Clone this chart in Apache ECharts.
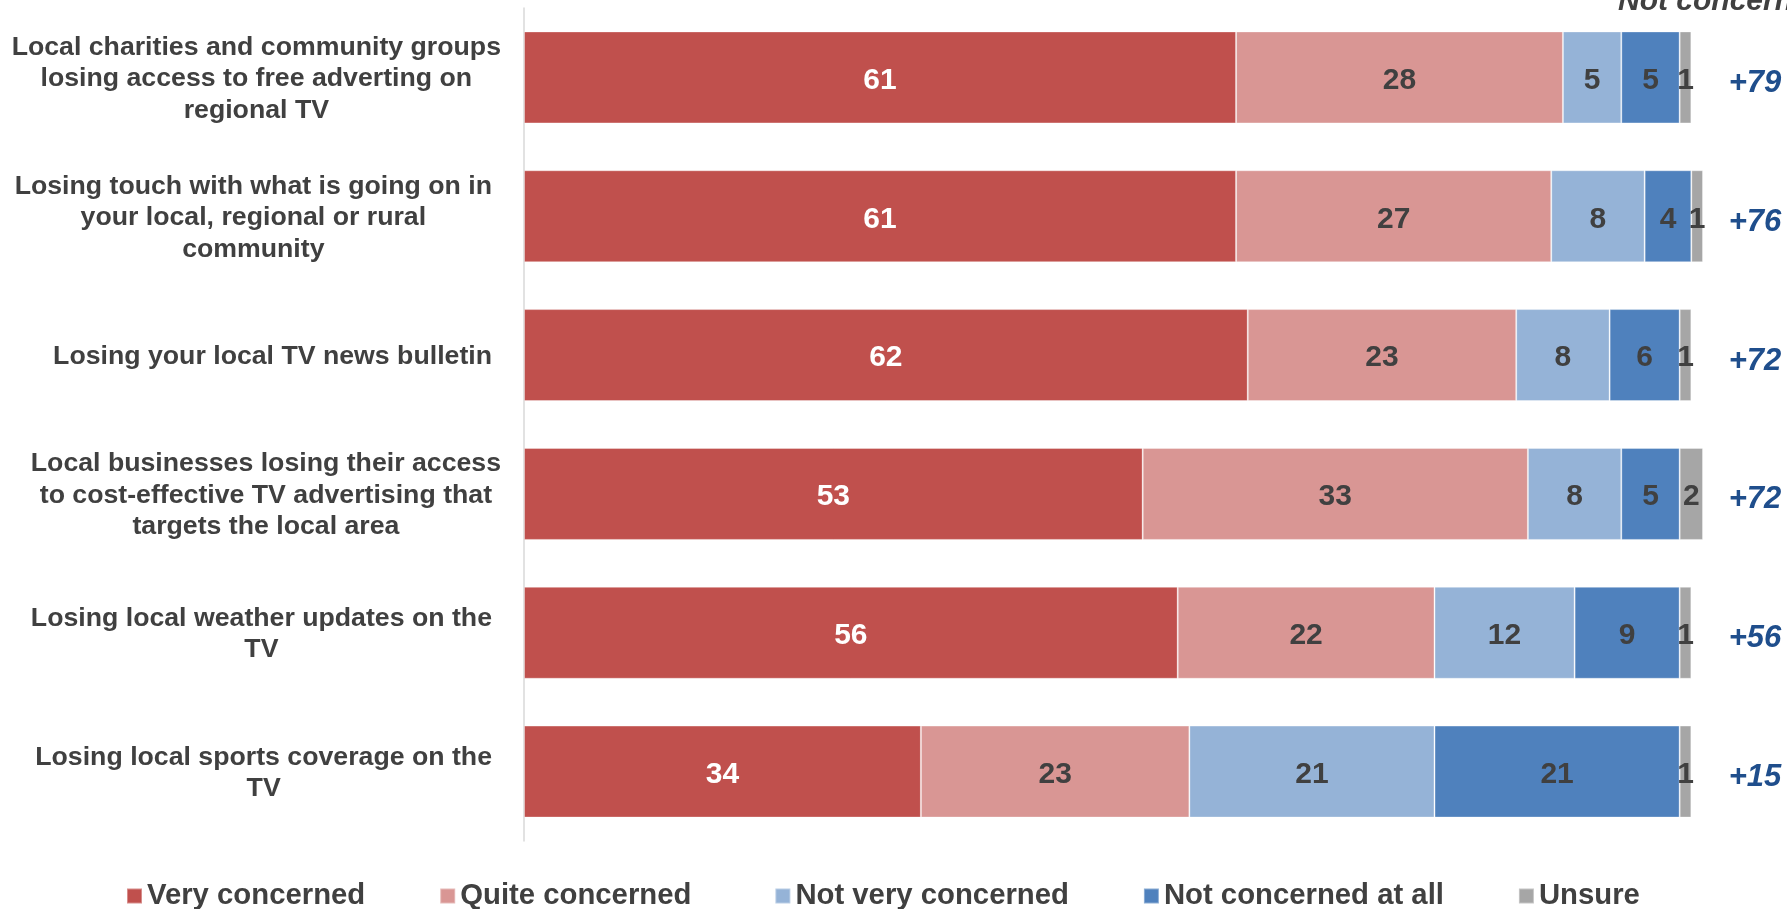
<!DOCTYPE html>
<html>
<head>
<meta charset="utf-8">
<title>Concern about losing local TV services</title>
<script src="https://cdn.jsdelivr.net/npm/echarts@6/dist/echarts.min.js"></script>
<style>
  html, body { margin: 0; padding: 0; background: #ffffff; }
  #chart { width: 1787px; height: 909px; }
</style>
</head>
<body>
<div id="chart"></div>
<script>
// Survey items (top to bottom), with line breaks as they are set in the labels
const categories = [
  'Local charities and community groups\nlosing access to free adverting on\nregional TV',
  'Losing touch with what is going on in\nyour local, regional or rural\ncommunity',
  'Losing your local TV news bulletin',
  'Local businesses losing their access\nto cost-effective TV advertising that\ntargets the local area',
  'Losing local weather updates on the\nTV',
  'Losing local sports coverage on the\nTV'
];

// Share of respondents (%) per answer
const veryConcerned     = [61, 61, 62, 53, 56, 34];
const quiteConcerned    = [28, 27, 23, 33, 22, 23];
const notVeryConcerned  = [5, 8, 8, 8, 12, 21];
const notConcernedAtAll = [5, 4, 6, 5, 9, 21];
const unsure            = [1, 1, 1, 2, 1, 1];

// Net concern (concerned minus not concerned)
const netConcern = ['+79', '+76', '+72', '+72', '+56', '+15'];

const FONT = "'Liberation Sans', Arial, Helvetica, sans-serif";
const TEXT = '#404040';

// The two longest labels run a little past the label column's right edge
const overflowRows = [0, 3];

function segment(name, values, color, labelColor) {
  return {
    name: name,
    type: 'bar',
    stack: 'total',
    data: values,
    barWidth: 92,
    clip: false,
    itemStyle: { color: color, borderColor: 'rgba(255,255,255,0.35)', borderWidth: 1 },
    label: {
      show: true,
      position: 'inside',
      offset: [0, 3],
      color: labelColor,
      fontFamily: FONT,
      fontWeight: 'bold',
      fontSize: 30
    },
    emphasis: { disabled: true }
  };
}

const chart = echarts.init(document.getElementById('chart'), null, { renderer: 'canvas' });

chart.setOption({
  animation: false,
  backgroundColor: '#ffffff',
  grid: { left: 524, right: 84, top: 8, bottom: 68 },
  xAxis: {
    type: 'value',
    min: 0,
    max: 101,
    show: false
  },
  yAxis: [
    {
      type: 'category',
      data: categories.map(function (c, i) {
        return {
          value: c,
          textStyle: { padding: [3, overflowRows.indexOf(i) >= 0 ? 0 : 9, 0, 0] }
        };
      }),
      inverse: true,
      position: 'left',
      axisLine: { show: true, lineStyle: { color: '#D9D9D9', width: 1.5 } },
      axisTick: { show: false },
      splitLine: { show: false },
      axisLabel: {
        margin: 23,
        align: 'right',
        padding: [3, 0, 0, 0],
        formatter: function (v) {
          return v.split('\n').map(function (s) { return '{c|' + s + '}'; }).join('\n');
        },
        rich: {
          c: {
            align: 'center',
            fontFamily: FONT,
            fontWeight: 'bold',
            fontSize: 26.7,
            lineHeight: 31.5,
            color: TEXT
          }
        }
      }
    },
    {
      type: 'category',
      data: netConcern,
      inverse: true,
      position: 'right',
      axisLine: { show: false },
      axisTick: { show: false },
      splitLine: { show: false },
      axisLabel: {
        margin: 52,
        align: 'center',
        formatter: function (v) { return '{n|' + v + '}'; },
        rich: {
          n: {
            padding: [12, 0, 0, 0],
            fontFamily: FONT,
            fontWeight: 'bold',
            fontStyle: 'italic',
            fontSize: 31,
            color: '#1F4E8C'
          }
        }
      }
    }
  ],
  legend: {
    left: 126,
    top: 879,
    padding: 0,
    itemWidth: 15,
    itemHeight: 15,
    itemGap: 74,
    icon: 'rect',
    selectedMode: false,
    formatter: function (name) {
      // slightly wider spacing after the second entry
      return name === 'Quite concerned' ? name + '{g|}' : name;
    },
    textStyle: {
      fontFamily: FONT,
      fontWeight: 'bold',
      fontSize: 29.3,
      lineHeight: 34,
      color: TEXT,
      rich: { g: { width: 9 } }
    },
    data: ['Very concerned', 'Quite concerned', 'Not very concerned', 'Not concerned at all', 'Unsure']
  },
  graphic: [
    {
      type: 'text',
      left: 1618,
      top: -13,
      silent: true,
      style: {
        text: 'Not concerned',
        fontFamily: FONT,
        fontWeight: 'bold',
        fontStyle: 'italic',
        fontSize: 30,
        fill: TEXT
      }
    }
  ],
  series: [
    segment('Very concerned', veryConcerned, '#C0504D', '#ffffff'),
    segment('Quite concerned', quiteConcerned, '#D99694', TEXT),
    segment('Not very concerned', notVeryConcerned, '#95B3D7', TEXT),
    segment('Not concerned at all', notConcernedAtAll, '#4F81BD', TEXT),
    segment('Unsure', unsure, '#A6A6A6', TEXT)
  ]
});
</script>
</body>
</html>
